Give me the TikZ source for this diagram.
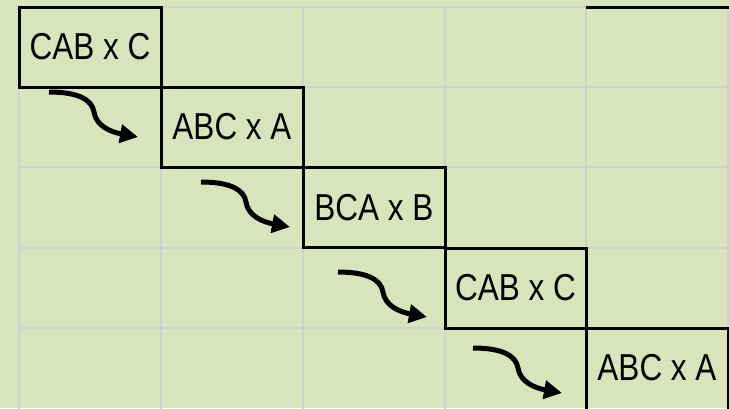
\documentclass[tikz,border=0pt]{standalone}
\usepackage{fontspec}
\setmainfont{Liberation Sans}[FakeStretch=0.84]
\usetikzlibrary{arrows.meta,calc}
\definecolor{bgGreen}{HTML}{D8E4BC}
\definecolor{gridGray}{HTML}{D0D0D0}
\tikzset{
  gridline/.style={draw=gridGray, line width=1.6pt},
  cellbox/.style={draw=black, line width=3pt, minimum width=142pt, minimum height=80pt,
    inner sep=0pt, outer sep=0pt, font=\fontsize{37.5}{40}\selectfont},
  swoosh/.style={line width=5pt, -{Triangle[length=18pt,width=18pt]}}
}
\begin{document}
\begin{tikzpicture}[x=1pt,y=-1pt]
\useasboundingbox (0,0) rectangle (729,408);
\fill[bgGreen] (0,0) rectangle (729,408);
\begin{scope}
\clip (0,0) rectangle (729,408);
% grid
\foreach \xx in {19,161,303,445,586,728} \draw[gridline] (\xx,7) -- (\xx,412);
\foreach \yy in {7,87,167,248,328} \draw[gridline] (19,\yy) -- (728,\yy);
% boxes
\node[cellbox] (b1) at (90,47) {CAB x C};
\node[cellbox] (b2) at (232,127) {ABC x A};
\node[cellbox] (b3) at (374,207.5) {BCA x B};
\node[cellbox, minimum width=141pt] (b4) at (515.5,288) {CAB x C};
\node[cellbox, minimum height=84pt] (b5) at (657,370) {};
\node[font=\fontsize{37.5}{40}\selectfont] (t5) at (657,368) {ABC x A};
\draw[line width=3pt] (586,7) -- (729,7);
% arrows
\coordinate (s1) at (49,92);  \coordinate (e1) at (138,137);
\coordinate (s2) at (201,182); \coordinate (e2) at (290,227);
\coordinate (s3) at (338,272); \coordinate (e3) at (427,317);
\coordinate (s4) at (473,348); \coordinate (e4) at (562,393);
\foreach \i in {1,2,3,4}{
  \draw[swoosh] (s\i) .. controls ($(s\i)+(30,0)$) and ($(s\i)+(43,8)$) .. ($(s\i)+(45,20)$)
     .. controls ($(s\i)+(47,34)$) and ($(s\i)+(62,40)$) .. (e\i);
}
\end{scope}
\end{tikzpicture}
\end{document}
